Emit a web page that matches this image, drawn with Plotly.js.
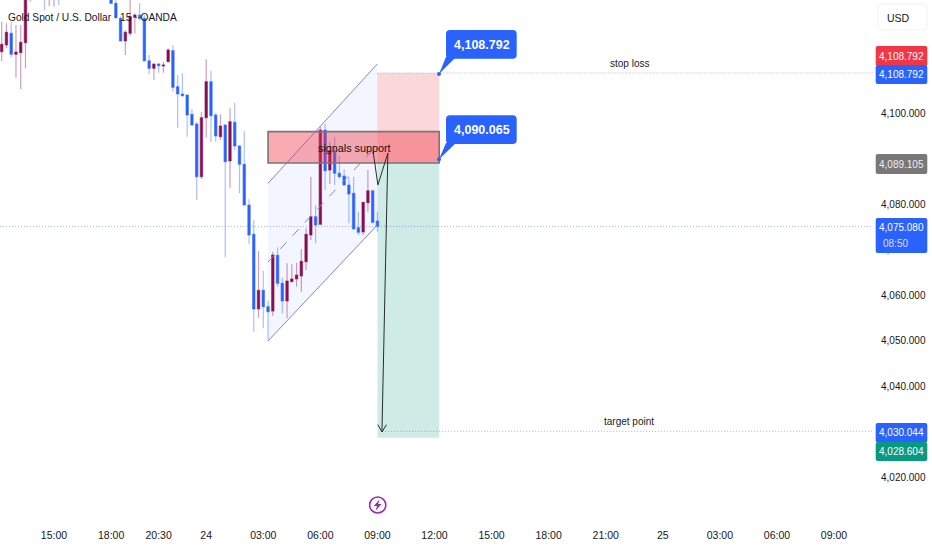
<!DOCTYPE html>
<html><head><meta charset="utf-8">
<script src="https://cdn.plot.ly/plotly-3.0.1.min.js"></script>
<style>html,body{margin:0;padding:0;background:#fff}#c{width:932px;height:550px}</style>
</head><body><div id="c"></div><script>
const candleIndex=[0,1,2,3,4,5,6,9,10,11,12,23,24,25,26,27,28,29,30,31,32,33,34,35,36,37,38,39,40,41,42,43,44,45,46,47,48,49,50,51,52,53,54,55,56,57,58,59,60,61,62,63,64,65,66,67,68,69,70,71,72,73,74,75,76,77,78,79];
const opens=[4113.48,4114.95,4117.52,4112.9,4113.26,4115.45,4127,4129.5,4126.5,4127,4129.5,4125.5,4124.11,4120.81,4115.83,4117.51,4121.03,4121.5,4120.81,4111.47,4109.82,4110.77,4110.33,4111.29,4113.7,4105.79,4104.18,4103.96,4099.71,4097.58,4086,4098.97,4106.88,4099.56,4094.79,4097.37,4089.45,4097.96,4092.75,4088.73,4079.78,4073.34,4056.92,4061.03,4057.43,4056.48,4068.73,4062.57,4058.68,4062.92,4063.52,4064.18,4067.32,4073.19,4077.21,4075.54,4096.27,4087.47,4091.72,4086.75,4086.16,4084.18,4082.35,4074.79,4073.85,4080.29,4082.92,4076.26];
const highs=[4120.07,4119.72,4120.07,4119.35,4119.35,4127.7,4133,4131,4130.5,4131,4131,4127,4125.3,4121.2,4118.25,4124.84,4121.9,4124.1,4121.54,4112.75,4110.92,4111.07,4111.29,4114.22,4114.95,4108.36,4108.72,4103.96,4100.88,4098.09,4100.29,4111.8,4109.3,4100.07,4099.72,4097.58,4101.04,4102.27,4092.97,4096.05,4081.03,4076.48,4069.67,4065.28,4058.75,4069.51,4070.48,4063.8,4066.97,4066.75,4067.1,4070.04,4074.66,4086,4079.78,4096.99,4097.58,4093.69,4094.66,4090.55,4087.63,4086,4086,4078.31,4080.51,4087.48,4083.08,4078.31];
const lows=[4111.43,4114.22,4112.25,4107.76,4105.28,4109.83,4124.5,4122.6,4123.5,4123.4,4123.7,4124.1,4120.8,4115.83,4112.75,4116.9,4117.5,4120.4,4111.47,4108.58,4107.26,4108.87,4108.87,4111.14,4104.69,4096.78,4103.59,4094.8,4097.37,4080.88,4085.49,4094.57,4093.63,4093.69,4094.07,4068.29,4083.58,4091.87,4082.35,4079.78,4071.21,4051.93,4055.01,4052.68,4050.11,4055.38,4061.82,4055.98,4054.88,4062.92,4061.82,4060.72,4065.49,4072.09,4071.36,4075.54,4083.08,4084.4,4084.18,4085.65,4083.96,4075.76,4074.44,4073.19,4073.19,4078.31,4075.76,4073.91];
const closes=[4115.1,4117.74,4112.9,4113.41,4115.54,4126.3,4131,4126.5,4129,4129.5,4127,4124.11,4121.03,4115.83,4117.73,4121.18,4121.54,4120.8,4111.47,4109.82,4110.77,4110.41,4110.55,4113.85,4105.65,4104.18,4103.81,4099.57,4097.37,4086,4098.97,4106.88,4099.41,4094.95,4097.15,4089.3,4098.09,4092.75,4088.73,4079.78,4073.19,4056.92,4061.03,4057.43,4056.33,4068.79,4062.57,4058.68,4063.08,4063.52,4064.4,4067.41,4073.34,4077.21,4075.39,4096.27,4087.32,4091.72,4086.75,4086,4084.18,4082.2,4074.51,4073.78,4080.37,4082.92,4075.98,4075.08];
const xTickIndex=[11,23,33,43,55,67,79,91,103,115,127,139,151,163,175];
const xTickText=['15:00','18:00','20:30','24','03:00','06:00','09:00','12:00','15:00','18:00','21:00','25','03:00','06:00','09:00'];
const yTickValues=[4020,4040,4050,4060,4070,4080,4100];
const stopLevel=4108.792,entryLevel=4090.065,targetLevel=4030.044,stopTarget=4028.604,lastPrice=4075.08,markerPrice=4089.105;

const W=932,H=550,PW=873,PH=522;
const MAROON='#880e4f',BLUE='#2962ff';
const FONT='"Liberation Sans",sans-serif';
const pxX=p=>p/PW, pxY=p=>(PH-p)/PH;
function round(x0,y0,x1,y1,r){
 const X=pxX,Y=pxY;
 return `M${X(x0+r)},${Y(y0)}L${X(x1-r)},${Y(y0)}Q${X(x1)},${Y(y0)} ${X(x1)},${Y(y0+r)}L${X(x1)},${Y(y1-r)}Q${X(x1)},${Y(y1)} ${X(x1-r)},${Y(y1)}L${X(x0+r)},${Y(y1)}Q${X(x0)},${Y(y1)} ${X(x0)},${Y(y1-r)}L${X(x0)},${Y(y0+r)}Q${X(x0)},${Y(y0)} ${X(x0+r)},${Y(y0)}Z`;
}
function poly(pts){return 'M'+pts.map(p=>pxX(p[0])+','+pxY(p[1])).join('L')+'Z';}
const paperShape=(path,fill,extra)=>Object.assign({type:'path',xref:'paper',yref:'paper',path,fillcolor:fill,line:{width:0},layer:'above'},extra||{});
const line=(x0,y0,x1,y1,color,width,dash,layer)=>({type:'line',xref:'x',yref:'y',x0,y0,x1,y1,line:{color,width,dash:dash||'solid'},layer:layer||'above'});
const rect=(x0,y0,x1,y1,fill,lineStyle,layer)=>({type:'rect',xref:'x',yref:'y',x0,y0,x1,y1,fillcolor:fill,line:lineStyle||{width:0},layer:layer||'below'});
const CH='#8084e0',DOT='rgba(82,96,235,.5)',DOTS='1px,2px',INK='#2b2b2b';

const shapes=[
 rect(79,entryLevel-1,92,stopLevel,'rgba(242,54,69,.2)'),
 rect(79,stopTarget,92,entryLevel-1,'rgba(8,153,129,.2)'),
 {type:'path',xref:'x',yref:'y',layer:'below',fillcolor:'rgba(41,98,255,.055)',line:{width:0},path:'M56,4049.9L79,4075.4L79,4110.8L56,4084.55Z'},
 line(56,4049.9,79,4075.4,CH,1),
 line(56,4084.55,79,4110.8,CH,1),
 line(56,4067.25,79,4093,CH,1,'dash'),
 line(79,stopLevel,183.3,stopLevel,DOT,1,DOTS),
 line(80,targetLevel,183.3,targetLevel,DOT,1,DOTS),
 line(-1,lastPrice,183.3,lastPrice,DOT,1,DOTS),
 rect(56,4089,92,4095.9,'rgba(240,55,68,.42)',{color:'#7d7474',width:1.6},'above'),
 {type:'path',xref:'x',yref:'y',layer:'above',line:{color:INK,width:1},path:'M78.1,4091.5L79.1,4084.2L81.2,4091.2L79.95,4029.9'},
 {type:'path',xref:'x',yref:'y',layer:'above',line:{color:INK,width:1},path:'M79.1,4031.5L79.95,4029.9L80.9,4031.5'},
 paperShape(poly([[439,74],[446,57],[456,57]]),BLUE),
 paperShape(poly([[439,159.3],[446,143],[456,143]]),BLUE),
 paperShape(round(446,30,516.7,58.7,4),BLUE),
 paperShape(round(446,115.3,516.7,144,4),BLUE),
 {type:'circle',xref:'paper',yref:'paper',x0:pxX(437),x1:pxX(441),y0:pxY(76),y1:pxY(72),fillcolor:BLUE,line:{width:0},layer:'above'},
 {type:'circle',xref:'paper',yref:'paper',x0:pxX(437),x1:pxX(441),y0:pxY(161.3),y1:pxY(157.3),fillcolor:BLUE,line:{width:0},layer:'above'},
 {type:'circle',xref:'paper',yref:'paper',x0:pxX(369.6),x1:pxX(385.8),y0:pxY(513),y1:pxY(497),fillcolor:'rgba(0,0,0,0)',line:{color:'#9c27b0',width:1.5},layer:'above'},
 paperShape(poly([[379.5,499.5],[373.8,506],[377,506],[375.6,510.7],[381.5,504],[378.2,504]]),'#9c27b0'),
 paperShape(round(878,4,927,30,3),'#ffffff',{line:{color:'#f1f1f1',width:1}}),
 paperShape(round(875.7,46,927.3,66,2),'#f23645'),
 paperShape(round(875.7,65,927.3,84,2),BLUE),
 paperShape(round(875.7,154,927.3,174,2),'#787878'),
 paperShape(round(875.7,218,927.3,253,2),BLUE),
 paperShape(round(875.7,423,927.3,442.5,2),BLUE),
 paperShape(round(875.7,442,927.3,461,2),'#089981')
];
const note=(text,x,y,size,color,anchor,bold)=>({text:bold?'<b>'+text+'</b>':text,xref:'paper',yref:'paper',x:pxX(x),y:pxY(y),xanchor:anchor||'left',yanchor:'middle',showarrow:false,borderpad:0,font:{size,color,family:FONT}});
const fmt=v=>v.toLocaleString('en-US',{minimumFractionDigits:3,maximumFractionDigits:3});
const annotations=[
 note('Gold Spot / U.S. Dollar · 15 · OANDA',7,18,10.2,'#131722'),
 note('signals support',354.5,148,10.8,'#111','center'),
 note('stop loss',629,63,10,'#222','center'),
 note('target point',629,422,10,'#222','center'),
 note(fmt(stopLevel),481.5,44.5,12.5,'#fff','center',true),
 note(fmt(entryLevel),481.5,129.5,12.5,'#fff','center',true),
 note('USD',886,18,10.5,'#131722'),
 note(fmt(stopLevel),924.5,56,10,'#fff','right'),
 note(fmt(stopLevel),924.5,74.5,10,'#fff','right'),
 note(fmt(markerPrice),924.5,164,10,'#eee','right'),
 note(fmt(lastPrice),924.5,227,10,'#fff','right'),
 note('08:50',882,243,10,'rgba(255,255,255,.8)'),
 note(fmt(targetLevel),924.5,432.5,10,'#fff','right'),
 note(fmt(stopTarget),924.5,451.5,10,'#fff','right')
];
const wicks={type:'candlestick',x:candleIndex,open:opens,high:highs,low:lows,close:closes,whiskerwidth:0,width:0.1,hoverinfo:'skip',
 increasing:{line:{color:'rgba(136,14,79,.4)',width:1.2},fillcolor:'rgba(0,0,0,0)'},
 decreasing:{line:{color:'rgba(41,98,255,.4)',width:1.2},fillcolor:'rgba(0,0,0,0)'}};
const bodies={type:'candlestick',x:candleIndex,open:opens,close:closes,
 high:opens.map((o,i)=>Math.max(o,closes[i])),low:opens.map((o,i)=>Math.min(o,closes[i])),
 whiskerwidth:0,width:0.82,hoverinfo:'skip',
 increasing:{line:{color:MAROON,width:0.3},fillcolor:MAROON},
 decreasing:{line:{color:BLUE,width:0.3},fillcolor:BLUE}};
Plotly.newPlot('c',[wicks,bodies],{
 width:W,height:H,margin:{l:0,r:W-PW,t:0,b:H-PH,pad:0},showlegend:false,paper_bgcolor:'#fff',plot_bgcolor:'#fff',
 xaxis:{range:[-0.357,183.2],tickmode:'array',tickvals:xTickIndex,ticktext:xTickText,showgrid:false,zeroline:false,showline:false,rangeslider:{visible:false},ticks:'outside',ticklen:3,tickcolor:'rgba(0,0,0,0)',tickfont:{family:FONT,size:10.5,color:'#131722'},fixedrange:true},
 yaxis:{side:'right',range:[4010.11,4124.84],tickmode:'array',tickvals:yTickValues,tickformat:',.3f',showgrid:false,zeroline:false,showline:false,ticks:'outside',ticklen:5,tickcolor:'rgba(0,0,0,0)',tickfont:{family:FONT,size:10,color:'#131722'},fixedrange:true},
 shapes,annotations
},{staticPlot:true,displayModeBar:false});
</script></body></html>
